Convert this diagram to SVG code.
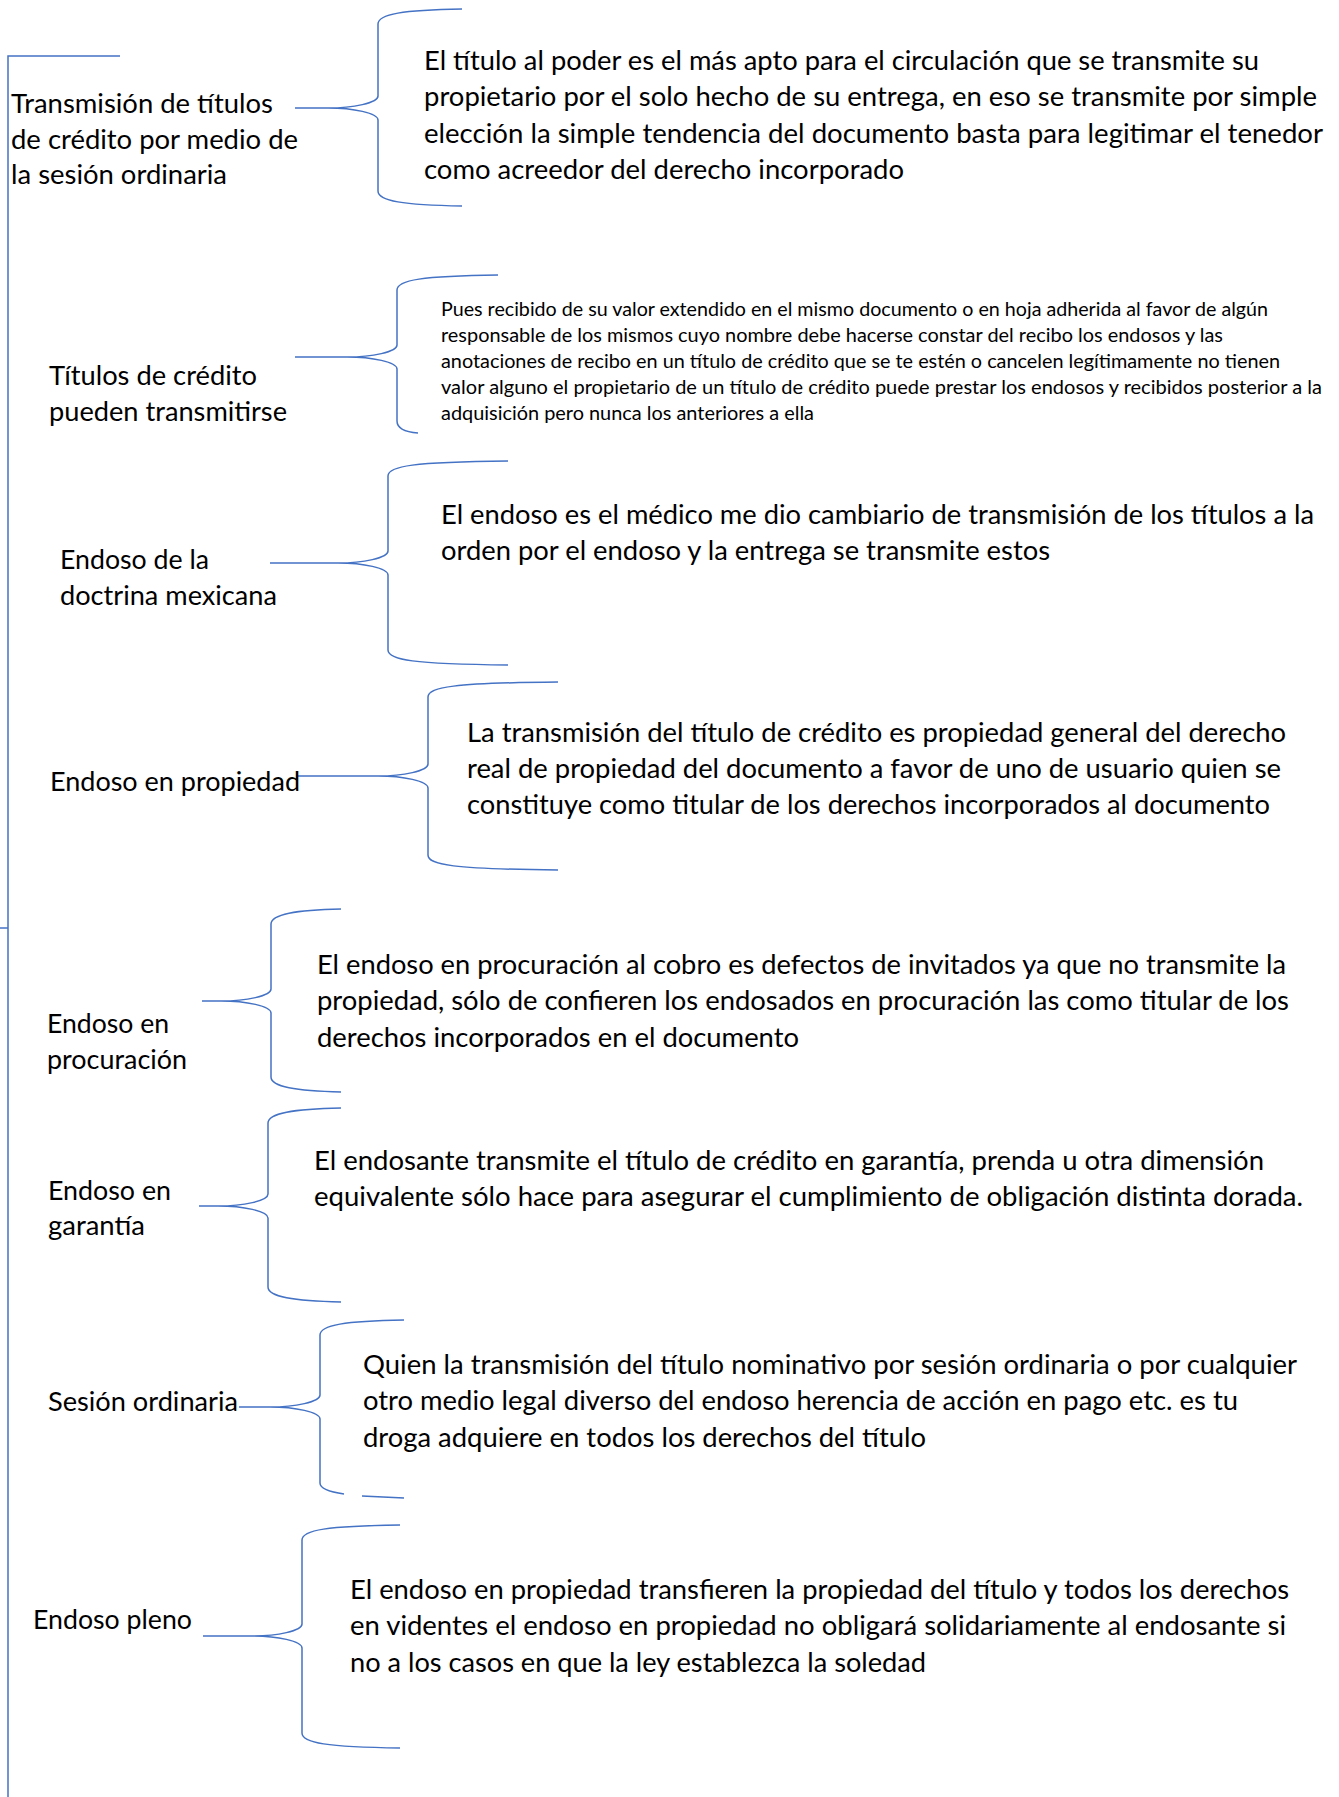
<svg xmlns="http://www.w3.org/2000/svg" width="1339" height="1797" viewBox="0 0 1339 1797">
<style>
text{font-family:Lato,"Open Sans","Liberation Sans",sans-serif;fill:#000}
.t{font-size:27.5px}
.s{font-size:19.5px}
.c{fill:none;stroke:#4472C4;stroke-width:1.5}
</style>
<rect width="1339" height="1797" fill="#fff"/>
<g id="connectors">
<path class="c" d="M120,56 H8 V1797"/>
<path class="c" d="M0,928 H8"/>
<path class="c" d="M462,9 C403,10 378,14 378,24 L378,96 C378,103 353,108 328,108 L295,108 M328,108 C353,108 378,113 378,120 L378,191 C378,201 403,205 462,206"/>
<path class="c" d="M498,275 C422,276 397,280 397,290 L397,345 C397,352 372,357 347,357 L295,357 M347,357 C372,357 397,362 397,369 L397,421 C397,428 405,432 418,433"/>
<path class="c" d="M508,461 C413,462 388,466 388,476 L388,551 C388,558 363,563 338,563 L270,563 M338,563 C363,563 388,568 388,575 L388,650 C388,660 413,664 508,665"/>
<path class="c" d="M558,682 C453,683 428,687 428,697 L428,764 C428,771 403,776 378,776 L297,776 M378,776 C403,776 428,781 428,788 L428,855 C428,865 453,869 558,870"/>
<path class="c" d="M341,909 C296,910 271,914 271,924 L271,989 C271,996 246,1001 221,1001 L202,1001 M221,1001 C246,1001 271,1006 271,1013 L271,1077 C271,1087 296,1091 341,1092"/>
<path class="c" d="M341,1108 C293,1109 268,1113 268,1123 L268,1194 C268,1201 243,1206 218,1206 L199,1206 M218,1206 C243,1206 268,1211 268,1218 L268,1287 C268,1297 293,1301 341,1302"/>
<path class="c" d="M404,1320 C345,1321 320,1325 320,1335 L320,1395 C320,1402 295,1407 270,1407 L239,1407 M270,1407 C295,1407 320,1412 320,1419 L320,1483 C320,1489 330,1492 344,1494 M362,1496 L404,1498"/>
<path class="c" d="M400,1525 C327,1526 302,1530 302,1540 L302,1624 C302,1631 277,1636 252,1636 L203,1636 M252,1636 C277,1636 302,1641 302,1648 L302,1733 C302,1743 327,1747 400,1748"/>
</g>
<g id="node-1">
<text class="t" x="11" y="113" textLength="262" lengthAdjust="spacingAndGlyphs">Transmisión de títulos</text>
<text class="t" x="11" y="148.5" textLength="287" lengthAdjust="spacingAndGlyphs">de crédito por medio de</text>
<text class="t" x="11" y="184" textLength="216" lengthAdjust="spacingAndGlyphs">la sesión ordinaria</text>
</g>
<g id="node-1-desc">
<text class="t" x="424" y="70" textLength="835" lengthAdjust="spacingAndGlyphs">El título al poder es el más apto para el circulación que se transmite su</text>
<text class="t" x="424" y="106.3" textLength="893" lengthAdjust="spacingAndGlyphs">propietario por el solo hecho de su entrega, en eso se transmite por simple</text>
<text class="t" x="424" y="142.6" textLength="899" lengthAdjust="spacingAndGlyphs">elección la simple tendencia del documento basta para legitimar el tenedor</text>
<text class="t" x="424" y="178.9" textLength="480" lengthAdjust="spacingAndGlyphs">como acreedor del derecho incorporado</text>
</g>
<g id="node-2">
<text class="t" x="49" y="385" textLength="208" lengthAdjust="spacingAndGlyphs">Títulos de crédito</text>
<text class="t" x="49" y="421" textLength="238" lengthAdjust="spacingAndGlyphs">pueden transmitirse</text>
</g>
<g id="node-2-desc">
<text class="s" x="441" y="315.5" textLength="827" lengthAdjust="spacingAndGlyphs">Pues recibido de su valor extendido en el mismo documento o en hoja adherida al favor de algún</text>
<text class="s" x="441" y="341.6" textLength="782" lengthAdjust="spacingAndGlyphs">responsable de los mismos cuyo nombre debe hacerse constar del recibo los endosos y las</text>
<text class="s" x="441" y="367.7" textLength="839" lengthAdjust="spacingAndGlyphs">anotaciones de recibo en un título de crédito que se te estén o cancelen legítimamente no tienen</text>
<text class="s" x="441" y="393.8" textLength="881" lengthAdjust="spacingAndGlyphs">valor alguno el propietario de un título de crédito puede prestar los endosos y recibidos posterior a la</text>
<text class="s" x="441" y="419.9" textLength="373" lengthAdjust="spacingAndGlyphs">adquisición pero nunca los anteriores a ella</text>
</g>
<g id="node-3">
<text class="t" x="60" y="569" textLength="149" lengthAdjust="spacingAndGlyphs">Endoso de la</text>
<text class="t" x="60" y="605" textLength="217" lengthAdjust="spacingAndGlyphs">doctrina mexicana</text>
</g>
<g id="node-3-desc">
<text class="t" x="441" y="524" textLength="873" lengthAdjust="spacingAndGlyphs">El endoso es el médico me dio cambiario de transmisión de los títulos a la</text>
<text class="t" x="441" y="560" textLength="609" lengthAdjust="spacingAndGlyphs">orden por el endoso y la entrega se transmite estos</text>
</g>
<g id="node-4">
<text class="t" x="50" y="791" textLength="250" lengthAdjust="spacingAndGlyphs">Endoso en propiedad</text>
</g>
<g id="node-4-desc">
<text class="t" x="467" y="742" textLength="819" lengthAdjust="spacingAndGlyphs">La transmisión del título de crédito es propiedad general del derecho</text>
<text class="t" x="467" y="778" textLength="814" lengthAdjust="spacingAndGlyphs">real de propiedad del documento a favor de uno de usuario quien se</text>
<text class="t" x="467" y="814" textLength="803" lengthAdjust="spacingAndGlyphs">constituye como titular de los derechos incorporados al documento</text>
</g>
<g id="node-5">
<text class="t" x="47" y="1033" textLength="122" lengthAdjust="spacingAndGlyphs">Endoso en</text>
<text class="t" x="47" y="1069" textLength="140" lengthAdjust="spacingAndGlyphs">procuración</text>
</g>
<g id="node-5-desc">
<text class="t" x="317" y="974" textLength="969" lengthAdjust="spacingAndGlyphs">El endoso en procuración al cobro es defectos de invitados ya que no transmite la</text>
<text class="t" x="317" y="1010.3" textLength="972" lengthAdjust="spacingAndGlyphs">propiedad, sólo de confieren los endosados en procuración las como titular de los</text>
<text class="t" x="317" y="1046.6" textLength="482" lengthAdjust="spacingAndGlyphs">derechos incorporados en el documento</text>
</g>
<g id="node-6">
<text class="t" x="48" y="1200" textLength="123" lengthAdjust="spacingAndGlyphs">Endoso en</text>
<text class="t" x="48" y="1235" textLength="97" lengthAdjust="spacingAndGlyphs">garantía</text>
</g>
<g id="node-6-desc">
<text class="t" x="314" y="1170" textLength="950" lengthAdjust="spacingAndGlyphs">El endosante transmite el título de crédito en garantía, prenda u otra dimensión</text>
<text class="t" x="314" y="1206" textLength="989" lengthAdjust="spacingAndGlyphs">equivalente sólo hace para asegurar el cumplimiento de obligación distinta dorada.</text>
</g>
<g id="node-7">
<text class="t" x="48" y="1411" textLength="190" lengthAdjust="spacingAndGlyphs">Sesión ordinaria</text>
</g>
<g id="node-7-desc">
<text class="t" x="363" y="1374" textLength="934" lengthAdjust="spacingAndGlyphs">Quien la transmisión del título nominativo por sesión ordinaria o por cualquier</text>
<text class="t" x="363" y="1410.3" textLength="875" lengthAdjust="spacingAndGlyphs">otro medio legal diverso del endoso herencia de acción en pago etc. es tu</text>
<text class="t" x="363" y="1446.6" textLength="563" lengthAdjust="spacingAndGlyphs">droga adquiere en todos los derechos del título</text>
</g>
<g id="node-8">
<text class="t" x="33" y="1629" textLength="159" lengthAdjust="spacingAndGlyphs">Endoso pleno</text>
</g>
<g id="node-8-desc">
<text class="t" x="350" y="1599" textLength="939" lengthAdjust="spacingAndGlyphs">El endoso en propiedad transfieren la propiedad del título y todos los derechos</text>
<text class="t" x="350" y="1635.3" textLength="936" lengthAdjust="spacingAndGlyphs">en videntes el endoso en propiedad no obligará solidariamente al endosante si</text>
<text class="t" x="350" y="1671.6" textLength="576" lengthAdjust="spacingAndGlyphs">no a los casos en que la ley establezca la soledad</text>
</g>
</svg>
